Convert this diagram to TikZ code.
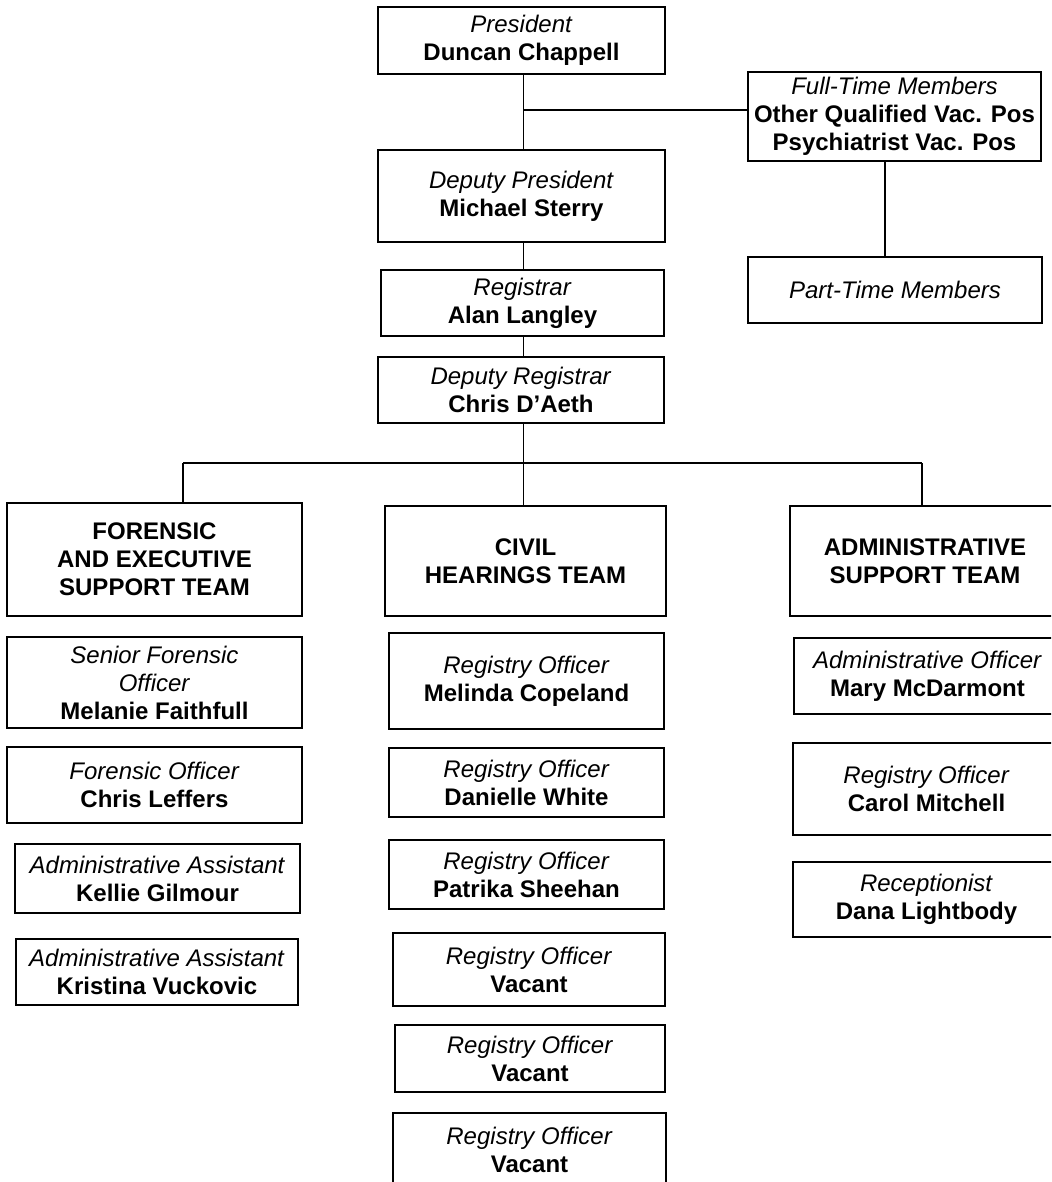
\documentclass[tikz,border=0pt]{standalone}
\usepackage{fontspec}
\setmainfont{Liberation Sans}
\usepackage{tikz}
\usetikzlibrary{positioning, calc}

\tikzset{
  box/.style={draw, rectangle, fill=white, align=center, inner sep=0pt,
    font=\fontsize{12}{14}\selectfont},
  sz/.style 2 args={minimum width=#1*0.5pt, minimum height=#2*0.5pt},
}

\begin{document}
\begin{tikzpicture}[x=0.5pt, y=-0.5pt, line width=0.7pt]

  \useasboundingbox (0,0) rectangle (1051,1182);
  \clip (0,0) rectangle (1051,1182);

  % Top of the chart
  \node[box, sz={287}{67}] (pres) at (521.5,40.5) {\textit{President}\\\textbf{Duncan Chappell}};
  \node[box, sz={287}{92}] (dpres) at (521.5,196) {\textit{Deputy President}\\\textbf{Michael Sterry}};
  \node[box, sz={283}{66}] (reg) at (522.5,303) {\textit{Registrar}\\\textbf{Alan Langley}};
  \node[box, sz={286}{66}] (dreg) at (521,390) {\textit{Deputy Registrar}\\\textbf{Chris D’Aeth}};

  % Members
  \node[box, sz={293}{89}] (full) at (894.5,116.5) {\textit{Full-Time Members}\\\textbf{Other Qualified Vac. Pos}\\\textbf{Psychiatrist Vac. Pos}};
  \node[box, sz={294}{66}] (part) at (895,290) {\textit{Part-Time Members}};

  % Teams
  \node[box, sz={295}{113}] (fteam) at (154.5,559.5) {\textbf{FORENSIC}\\\textbf{AND EXECUTIVE}\\\textbf{SUPPORT TEAM}};
  \node[box, sz={281}{110}] (cteam) at (525.5,561) {\textbf{CIVIL}\\\textbf{HEARINGS TEAM}};
  \node[box, sz={270}{110}] (ateam) at (925,561) {\textbf{ADMINISTRATIVE}\\\textbf{SUPPORT TEAM}};

  % Forensic and executive support
  \node[box, sz={295}{91}] (sfo) at (154.5,682.5) {\textit{Senior Forensic}\\\textit{Officer}\\\textbf{Melanie Faithfull}};
  \node[box, sz={295}{76}] (fo) at (154.5,785) {\textit{Forensic Officer}\\\textbf{Chris Leffers}};
  \node[box, sz={285}{69}] (aa1) at (157.5,878.5) {\textit{Administrative Assistant}\\\textbf{Kellie Gilmour}};
  \node[box, sz={282}{66}] (aa2) at (157,972) {\textit{Administrative Assistant}\\\textbf{Kristina Vuckovic}};

  % Civil hearings
  \node[box, sz={275}{96}] (ro1) at (526.5,681) {\textit{Registry Officer}\\\textbf{Melinda Copeland}};
  \node[box, sz={275}{69}] (ro2) at (526.5,782.5) {\textit{Registry Officer}\\\textbf{Danielle White}};
  \node[box, sz={275}{69}] (ro3) at (526.5,874.5) {\textit{Registry Officer}\\\textbf{Patrika Sheehan}};
  \node[box, sz={272}{73}] (ro4) at (529,969.5) {\textit{Registry Officer}\\\textbf{Vacant}};
  \node[box, sz={270}{67}] (ro5) at (530,1058.5) {\textit{Registry Officer}\\\textbf{Vacant}};
  \node[box, sz={273}{73}] (ro6) at (529.5,1149.5) {\textit{Registry Officer}\\\textbf{Vacant}};

  % Administrative support
  \node[box, sz={267}{76}] (ao) at (927.5,676) {\textit{Administrative Officer}\\\textbf{Mary McDarmont}};
  \node[box, sz={267}{92}] (ro7) at (926.5,789) {\textit{Registry Officer}\\\textbf{Carol Mitchell}};
  \node[box, sz={267}{75}] (rec) at (926.5,899.5) {\textit{Receptionist}\\\textbf{Dana Lightbody}};

  % Lines
  \coordinate (spine) at (523.5,0);
  \coordinate (branch) at (523.5,110);
  \coordinate (ftline) at (885,0);
  \coordinate (busl) at (183,463);
  \coordinate (busr) at (922,463);

  \draw (pres.south -| spine) -- (dpres.north -| spine);
  \draw (branch) -- (branch -| full.west);
  \draw (full.south -| ftline) -- (part.north -| ftline);
  \draw (dpres.south -| spine) -- (reg.north -| spine);
  \draw (reg.south -| spine) -- (dreg.north -| spine);
  \draw (dreg.south -| spine) -- (busl -| spine);
  \draw (busl) -- (busr);
  \draw (busl) -- (busl |- fteam.north);
  \draw (busl -| spine) -- (cteam.north -| spine);
  \draw (busr) -- (busr |- ateam.north);

\end{tikzpicture}
\end{document}
